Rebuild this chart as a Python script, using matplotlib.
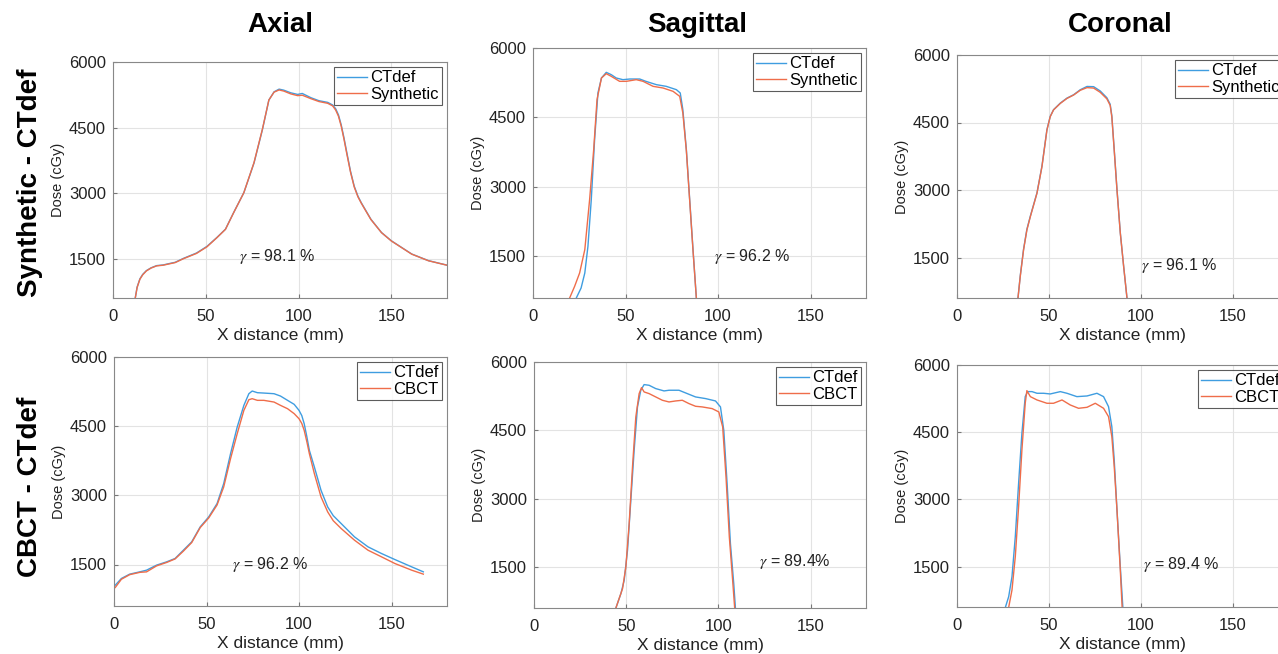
import matplotlib.pyplot as plt

plt.rcParams['font.family'] = ['Liberation Sans', 'DejaVu Sans']
plt.rcParams['mathtext.fontset'] = 'stix'

# ---- data (x in mm, dose in cGy) ----
# Axial, Synthetic vs CTdef
ax_syn_x = [12, 13, 14.5, 16, 18, 20.5, 23.5, 27, 30, 33.5, 38, 45, 50.6, 56, 60.6, 65, 70.5, 76, 80.5, 84, 86.8,
            89.5, 92, 95.8, 99.5, 102, 106.7, 111, 115.7, 118.4, 120, 121.5, 123, 124.5, 126, 128, 130, 132,
            133.8, 136, 139, 144.7, 150, 161, 170, 181]
ax_syn_ct = [600, 850, 1038, 1140, 1227, 1290, 1341, 1356, 1385, 1417, 1507, 1629, 1780, 1985, 2174, 2553, 3008,
             3689, 4447, 5129, 5318, 5379, 5356, 5295, 5258, 5280, 5182, 5114, 5076, 5015, 4930, 4790, 4560, 4260,
             3930, 3500, 3159, 2930, 2780, 2620, 2401, 2098, 1909, 1606, 1455, 1341]
ax_syn_sy = [600, 840, 1030, 1130, 1220, 1285, 1335, 1350, 1378, 1410, 1500, 1620, 1770, 1980, 2170, 2550, 3008,
             3700, 4460, 5130, 5310, 5360, 5335, 5270, 5230, 5240, 5160, 5095, 5055, 4995, 4900, 4760, 4530, 4230,
             3900, 3480, 3140, 2915, 2770, 2610, 2395, 2095, 1905, 1603, 1452, 1340]

# Sagittal, Synthetic vs CTdef
sa_ct_x = [23.4, 26, 28, 29.7, 31.5, 33.3, 35.1, 37, 39.6, 42.3, 45, 48.6, 52.3, 57.7, 61, 66.7, 72, 77.5,
           79.6, 81, 82.9, 84.7, 86.5, 88.3]
sa_ct_y = [600, 816, 1140, 1716, 2724, 4020, 5028, 5352, 5474, 5424, 5352, 5316, 5330, 5330, 5280, 5208, 5172,
           5100, 5028, 4668, 3804, 2724, 1644, 600]
sa_sy_x = [19.8, 22.5, 25.2, 28, 30.6, 32.8, 34.6, 37, 39.6, 42.3, 46.8, 50.5, 55.8, 59.5, 64.9, 70.3, 75.7,
           79.3, 81, 82.9, 84.7, 86.5, 88.3]
sa_sy_y = [600, 852, 1140, 1644, 2724, 3804, 4884, 5352, 5445, 5388, 5280, 5280, 5316, 5280, 5172, 5136, 5064,
           4956, 4596, 3780, 2700, 1620, 600]

# Coronal, Synthetic vs CTdef
co_syn_x = [33.2, 34.4, 36.2, 38, 39.9, 43.5, 46.2, 48.9, 50.7, 52.5, 56.2, 59.8, 63.4, 67, 70.7, 74.3, 77.9,
            81.5, 83.3, 84.2, 85.5, 87, 88.8, 90.6, 92.4]
co_syn_ct = [614, 1094, 1685, 2127, 2422, 2939, 3530, 4341, 4636, 4784, 4932, 5042, 5116, 5227, 5301, 5296, 5200,
             5050, 4905, 4650, 3898, 3013, 2053, 1315, 614]
co_syn_sy = [614, 1080, 1670, 2110, 2410, 2930, 3520, 4330, 4630, 4780, 4925, 5035, 5110, 5215, 5275, 5265, 5170,
             5025, 4880, 4620, 3880, 3000, 2045, 1310, 614]

# Axial, CBCT vs CTdef
ax_cb_x = [0.7, 4, 8.5, 14, 17.6, 23, 28.5, 33, 37.5, 42, 46.6, 51.2, 55.7, 59.3, 63, 66.6, 70.2, 72.9, 74.7,
           77.5, 81, 86.5, 90, 93.8, 97.4, 100, 101.5, 102.8, 104.2, 105.6, 108.3, 111.9, 115.5, 118.5, 122.8,
           130, 137.3, 144.6, 151.8, 160.9, 167.2]
ax_cb_ct = [1052, 1197, 1291, 1341, 1377, 1486, 1558, 1630, 1810, 1991, 2316, 2532, 2821, 3254, 3904, 4482,
            4951, 5204, 5262, 5226, 5218, 5204, 5153, 5060, 4973, 4843, 4730, 4554, 4280, 3976, 3615, 3110, 2749,
            2560, 2388, 2099, 1883, 1738, 1608, 1449, 1341]
ax_cb_cb = [1002, 1180, 1280, 1330, 1340, 1470, 1545, 1620, 1790, 1975, 2300, 2510, 2790, 3182, 3796, 4337,
            4843, 5074, 5096, 5060, 5060, 5023, 4951, 4879, 4771, 4662, 4560, 4410, 4170, 3904, 3471, 2966, 2641,
            2450, 2280, 2027, 1810, 1666, 1522, 1377, 1291]

# Sagittal, CBCT vs CTdef
sa2_ct_x = [44.4, 47.1, 48.9, 50.7, 52.5, 54.3, 56.1, 57.9, 59.7, 62.4, 66, 70.5, 73.2, 78.6, 82.2, 87.6, 93,
            98.4, 101.1, 102.9, 104.7, 106.5, 108.3, 109.2]
sa2_ct_y = [600, 914, 1207, 1866, 2964, 4062, 5014, 5380, 5504, 5489, 5416, 5365, 5380, 5380, 5321, 5233, 5197,
            5145, 5014, 4501, 3330, 2012, 1134, 600]
sa2_cb_x = [44.4, 48, 49.8, 51.6, 53.4, 55.2, 57, 58.3, 59.7, 62.4, 66, 69.6, 73.2, 76.8, 80.4, 84, 87.6, 91.2,
            96.6, 100.2, 102.3, 104.1, 105.9, 107.7, 108.8]
sa2_cb_y = [600, 1024, 1500, 2452, 3696, 4794, 5306, 5438, 5343, 5306, 5233, 5160, 5123, 5145, 5160, 5087, 5028,
            5014, 4977, 4904, 4574, 3476, 2159, 1207, 600]

# Coronal, CBCT vs CTdef
co2_ct_x = [26.3, 28.1, 29.9, 31.7, 33.5, 35.3, 37.1, 38.4, 40.8, 43.5, 47.1, 50.7, 56.2, 59.8, 65.2, 70.7,
            76.1, 79.7, 82.4, 84.2, 85.5, 87, 88.8, 90.2]
co2_ct_y = [592, 830, 1277, 2170, 3360, 4476, 5294, 5406, 5406, 5369, 5369, 5354, 5406, 5369, 5294, 5309, 5369,
            5294, 5071, 4625, 3881, 2765, 1500, 592]
co2_cb_x = [28.1, 29.9, 31.7, 33.5, 35.3, 37.1, 38, 39.9, 43.5, 48.9, 52.5, 57.1, 61.6, 66.1, 70.7, 75.2, 79.7,
            82.4, 84.2, 85.5, 87, 88.8, 89.8]
co2_cb_y = [592, 979, 1723, 2839, 4104, 5146, 5428, 5294, 5220, 5146, 5146, 5220, 5108, 5034, 5056, 5146, 5034,
            4848, 4402, 3732, 2765, 1426, 592]

gammas = ['98.1 %', '96.2 %', '96.1 %', '96.2 %', '89.4%', '89.4 %']
gamma_pos = [(68, 1550), (98, 1500), (100, 1330), (64, 1490), (122, 1610), (101, 1540)]
col_titles = ['Axial', 'Sagittal', 'Coronal']
row_titles = ['Synthetic - CTdef', 'CBCT - CTdef']

panels = [
    (ax_syn_x, ax_syn_ct, ax_syn_x, ax_syn_sy, 'Synthetic'),
    (sa_ct_x, sa_ct_y, sa_sy_x, sa_sy_y, 'Synthetic'),
    (co_syn_x, co_syn_ct, co_syn_x, co_syn_sy, 'Synthetic'),
    (ax_cb_x, ax_cb_ct, ax_cb_x, ax_cb_cb, 'CBCT'),
    (sa2_ct_x, sa2_ct_y, sa2_cb_x, sa2_cb_y, 'CBCT'),
    (co2_ct_x, co2_ct_y, co2_cb_x, co2_cb_y, 'CBCT'),
]

# axes boxes in pixels: left, right, top, bottom
boxes = [(113, 447, 62, 298), (533, 866, 48, 298), (957, 1288, 55, 298),
         (114, 447, 357, 606), (534, 866, 362, 608), (957, 1288, 365, 607)]

W, H = 1278, 654
fig = plt.figure(figsize=(W / 100, H / 100), dpi=100)

blue = '#3f9de0'
red = '#ef6d4a'

for i, (xa, ya, xb, yb, name) in enumerate(panels):
    l, r, t, b = boxes[i]
    ax = fig.add_axes([l / W, (H - b) / H, (r - l) / W, (b - t) / H])
    ax.plot(xa, ya, color=blue, lw=1.0, label='CTdef')
    ax.plot(xb, yb, color=red, lw=1.0, label=name)
    ax.set_xlim(0, 180)
    ax.set_ylim(600, 6000)
    ax.set_xticks([0, 50, 100, 150])
    ax.set_yticks([1500, 3000, 4500, 6000])
    ax.grid(True, color='#e3e3e3', lw=0.8)
    ax.tick_params(direction='in', length=3, labelsize=12, colors='#777777', labelcolor='#222222')
    ax.tick_params(axis='x', pad=8)
    ax.tick_params(axis='y', pad=5)
    for s in ax.spines.values():
        s.set_color('#888888')
    ax.set_xlabel('X distance (mm)', fontsize=12.5, color='#222222', labelpad=3)
    ax.set_ylabel('Dose (cGy)', fontsize=10.5, color='#222222', labelpad=3)
    gx, gy = gamma_pos[i]
    ax.text(gx, gy, r'$\gamma$ = ' + gammas[i], fontsize=11.5, color='#222222', va='center')
    leg = ax.legend(loc='upper right', fontsize=12, handlelength=1.8, handletextpad=0.2,
                    borderpad=0.2, labelspacing=0.1, fancybox=False, borderaxespad=0.3)
    leg.get_frame().set_edgecolor('#333333')
    leg.get_frame().set_linewidth(0.8)

for x, title in zip([280, 697, 1120], col_titles):
    fig.text(x / W, 1 - 25 / H, title, fontsize=20, fontweight='bold', ha='center', va='center')
for y, title in zip([183, 487], row_titles):
    fig.text(30 / W, 1 - y / H, title, fontsize=20, fontweight='bold', ha='center', va='center',
             rotation=90)

plt.savefig('out.png', dpi=100)
